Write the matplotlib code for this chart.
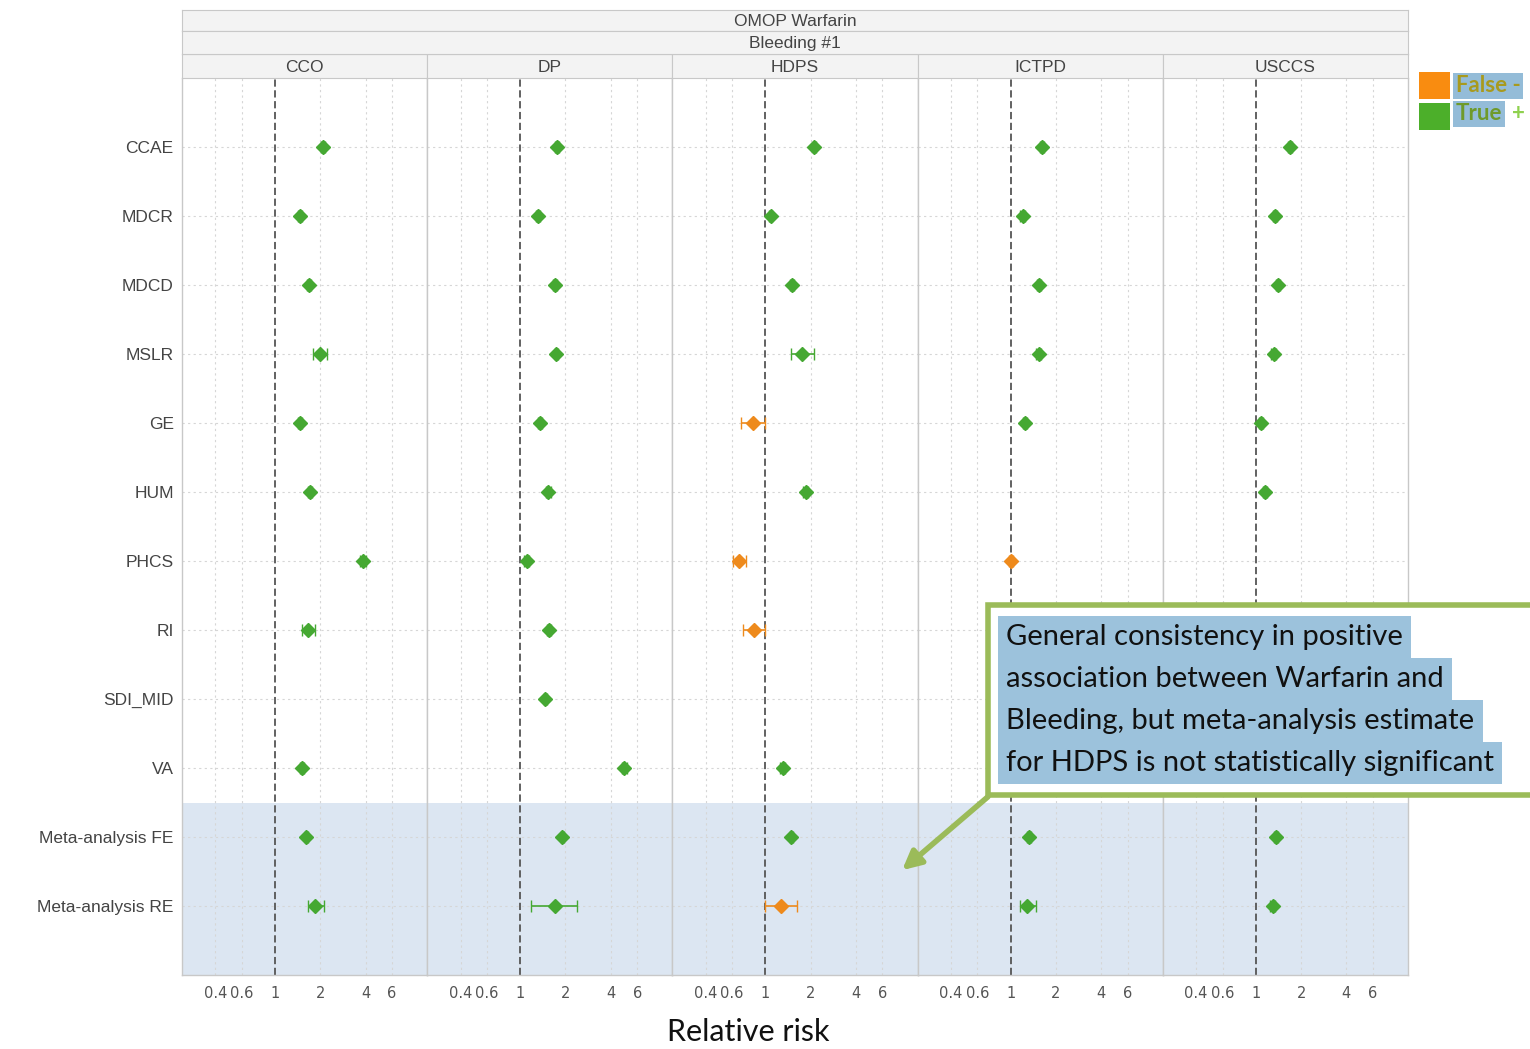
import numpy as np
import matplotlib
matplotlib.use("Agg")
import matplotlib.pyplot as plt
from matplotlib.patches import Rectangle

nan = np.nan

rows = ["CCAE", "MDCR", "MDCD", "MSLR", "GE", "HUM", "PHCS", "RI", "SDI_MID", "VA",
        "Meta-analysis FE", "Meta-analysis RE"]
methods = ["CCO", "DP", "HDPS", "ICTPD", "USCCS"]

# relative risk estimates with confidence bounds, one list per method
cco_rr = [2.09, 1.47, 1.69, 2.00, 1.47, 1.71, 3.86, 1.66, nan, 1.51, 1.61, 1.85]
cco_lo = [2.02, 1.43, 1.64, 1.79, 1.42, 1.65, 3.68, 1.51, nan, 1.46, 1.57, 1.66]
cco_hi = [2.16, 1.51, 1.74, 2.22, 1.52, 1.77, 4.05, 1.85, nan, 1.56, 1.65, 2.12]

dp_rr = [1.76, 1.32, 1.71, 1.74, 1.36, 1.54, 1.10, 1.56, 1.47, 4.94, 1.91, 1.69]
dp_lo = [1.71, 1.28, 1.66, 1.69, 1.32, 1.49, 1.06, 1.51, 1.43, 4.75, 1.86, 1.18]
dp_hi = [1.81, 1.36, 1.76, 1.79, 1.40, 1.59, 1.14, 1.61, 1.51, 5.15, 1.96, 2.40]

hdps_rr = [2.12, 1.08, 1.51, 1.76, 0.83, 1.85, 0.67, 0.84, nan, 1.30, 1.49, 1.26]
hdps_lo = [2.06, 1.05, 1.46, 1.47, 0.69, 1.79, 0.61, 0.71, nan, 1.25, 1.45, 0.99]
hdps_hi = [2.18, 1.11, 1.56, 2.12, 1.00, 1.91, 0.74, 1.00, nan, 1.35, 1.53, 1.61]

ictpd_rr = [1.61, 1.20, 1.54, 1.54, 1.24, nan, 1.00, nan, nan, nan, 1.32, 1.28]
ictpd_lo = [1.56, 1.16, 1.49, 1.48, 1.20, nan, 0.97, nan, nan, nan, 1.28, 1.15]
ictpd_hi = [1.66, 1.24, 1.59, 1.60, 1.28, nan, 1.03, nan, nan, nan, 1.36, 1.47]

usccs_rr = [1.69, 1.34, 1.40, 1.32, 1.08, 1.15, nan, nan, nan, nan, 1.36, 1.30]
usccs_lo = [1.64, 1.30, 1.36, 1.27, 1.05, 1.11, nan, nan, nan, nan, 1.32, 1.25]
usccs_hi = [1.74, 1.38, 1.44, 1.37, 1.11, 1.19, nan, nan, nan, nan, 1.40, 1.35]

xticks = [0.4, 0.6, 1, 2, 4, 6]
xticklabels = ["0.4", "0.6", "1", "2", "4", "6"]

est = [cco_rr, dp_rr, hdps_rr, ictpd_rr, usccs_rr]
low = [cco_lo, dp_lo, hdps_lo, ictpd_lo, usccs_lo]
high = [cco_hi, dp_hi, hdps_hi, ictpd_hi, usccs_hi]

green = "#45a832"
orange = "#ee8a1c"
W, H = 1530.0, 1049.0


def fx(x):
    return x / W


def fy(y):
    return 1 - y / H


fig = plt.figure(figsize=(15.3, 10.49), dpi=100)

left, right, top, bottom = 182, 1408, 78, 975
pw = (right - left) / 5.0

for k, m in enumerate(methods):
    ax = fig.add_axes([fx(left + k * pw), fy(bottom), pw / W, (bottom - top) / H])
    ax.set_xscale("log")
    ax.set_xlim(0.24, 10.3)
    ax.set_ylim(12, -1)
    ax.axhspan(9.5, 12, color="#dce6f2", zorder=0, lw=0)
    for v in [0.4, 0.6, 2, 4, 6]:
        ax.axvline(v, color="#d6d6d6", lw=0.8, ls=(0, (2, 3)), zorder=1)
    for i in range(len(rows)):
        ax.axhline(i, color="#d6d6d6", lw=0.8, ls=(0, (2, 3)), zorder=1)
    ax.axvline(1, color="#555555", lw=1.3, ls=(0, (4, 2)), zorder=2)

    r = np.array(est[k]); lo = np.array(low[k]); hi = np.array(high[k])
    for i in range(len(rows)):
        if np.isnan(r[i]):
            continue
        c = green if lo[i] > 1 else orange
        ax.errorbar(r[i], i, xerr=[[r[i] - lo[i]], [hi[i] - r[i]]], fmt="D", color=c,
                    ms=7, capsize=4, elinewidth=1.2, capthick=1.0, zorder=3)

    ax.set_xticks(xticks)
    ax.set_xticklabels(xticklabels)
    ax.xaxis.set_minor_locator(matplotlib.ticker.NullLocator())
    ax.tick_params(axis="x", length=0, pad=8, labelsize=10.5, labelcolor="#555555")
    ax.set_yticks(range(len(rows)))
    if k == 0:
        ax.set_yticklabels(rows, fontsize=12.5, color="#444444", family="Liberation Sans")
        ax.tick_params(axis="y", length=0, pad=6)
    else:
        ax.set_yticklabels([])
        ax.tick_params(axis="y", length=0)
    for s in ax.spines.values():
        s.set_color("#c8c8c8")
        s.set_linewidth(1.0)
    ax.spines["top"].set_visible(False)

    # panel header strip
    sx = fig.add_axes([fx(left + k * pw), fy(78), pw / W, 24 / H])
    sx.set_facecolor("#f3f3f3")
    sx.set_xticks([]); sx.set_yticks([])
    for s in sx.spines.values():
        s.set_color("#c8c8c8")
    sx.text(0.5, 0.45, m, ha="center", va="center", fontsize=12.5, color="#444444",
            family="Liberation Sans", transform=sx.transAxes)

for y0, y1, label in [(10, 31, "OMOP Warfarin"), (31, 54, "Bleeding #1")]:
    sx = fig.add_axes([fx(left), fy(y1), (right - left) / W, (y1 - y0) / H])
    sx.set_facecolor("#f3f3f3")
    sx.set_xticks([]); sx.set_yticks([])
    for s in sx.spines.values():
        s.set_color("#c8c8c8")
    sx.text(0.5, 0.45, label, ha="center", va="center", fontsize=12.5, color="#444444",
            family="Liberation Sans", transform=sx.transAxes)

fig.text(fx(748), fy(1032), "Relative risk", ha="center", va="center", fontsize=22,
         family="Lato", color="#111111")

# legend
fig.patches.append(Rectangle((fx(1419), fy(99)), 31 / W, 27 / H, transform=fig.transFigure,
                             facecolor="#f98c10", edgecolor="none"))
fig.patches.append(Rectangle((fx(1419), fy(130)), 31 / W, 27 / H, transform=fig.transFigure,
                             facecolor="#4caf2a", edgecolor="none"))
fig.text(fx(1456), fy(86), "False -", ha="left", va="center", fontsize=16, weight="bold",
         family="Lato", color="#a89a1e",
         bbox=dict(facecolor="#94bcd8", edgecolor="none", pad=2))
fig.text(fx(1456), fy(114), "True", ha="left", va="center", fontsize=16, weight="bold",
         family="Lato", color="#6f9a2a",
         bbox=dict(facecolor="#94bcd8", edgecolor="none", pad=2))
fig.text(fx(1512), fy(114), "+", ha="left", va="center", fontsize=16, weight="bold",
         family="Lato", color="#8fd14f")

# callout box
fig.patches.append(Rectangle((fx(988), fy(795)), 600 / W, 190 / H, transform=fig.transFigure,
                             facecolor="white", edgecolor="#9bbb59", linewidth=4, zorder=5))
lines = ["General consistency in positive",
         "association between Warfarin and",
         "Bleeding, but meta-analysis estimate",
         "for HDPS is not statistically significant"]
hl = "#9cc2dc"
# highlight pass first, then the text on top so descenders are not covered
for j, t in enumerate(lines):
    fig.text(fx(1006), fy(637 + 42 * j), t, ha="left", va="center", fontsize=21,
             family="Lato", color=hl, zorder=6,
             bbox=dict(facecolor=hl, edgecolor="none", pad=6))
for j, t in enumerate(lines):
    fig.text(fx(1006), fy(637 + 42 * j), t, ha="left", va="center", fontsize=21,
             family="Lato", color="#111111", zorder=7)
fig.add_artist(matplotlib.patches.FancyArrowPatch(
    (fx(990), fy(795)), (fx(900), fy(872)), transform=fig.transFigure,
    arrowstyle="-|>", mutation_scale=28, color="#9bbb59", lw=4, zorder=6))

plt.savefig("out.png", dpi=100)
